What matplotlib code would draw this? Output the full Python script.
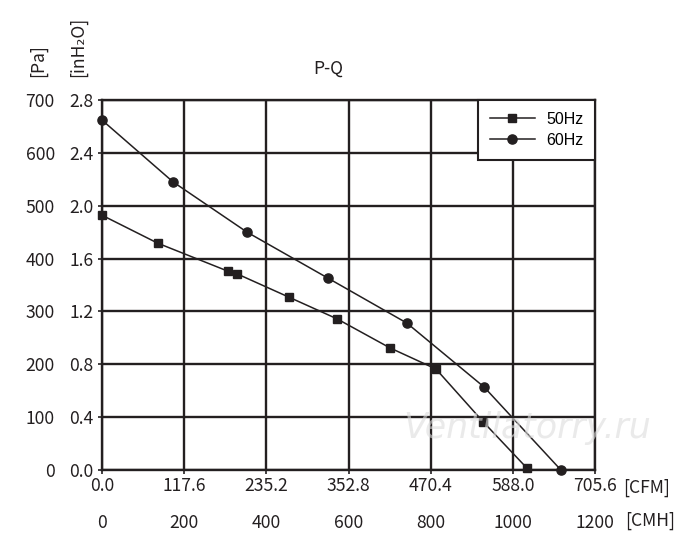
import numpy as np
import matplotlib.pyplot as plt

plt.rcParams['font.family'] = ['Noto Sans CJK SC', 'DejaVu Sans']

# airflow in CMH, pressure in Pa
q_50hz = [0, 136, 307, 329, 455, 572, 701, 813, 928, 1035]
p_50hz = [482, 429, 376, 371, 327, 286, 231, 191, 91, 3]
q_60hz = [0, 173, 353, 550, 742, 930, 1117]
p_60hz = [662, 545, 450, 363, 278, 157, 0]

cmh_ticks = [0, 200, 400, 600, 800, 1000, 1200]
pa_ticks = [0, 100, 200, 300, 400, 500, 600, 700]
cfm_ticks = [0.0, 117.6, 235.2, 352.8, 470.4, 588.0, 705.6]
inh2o_ticks = [0.0, 0.4, 0.8, 1.2, 1.6, 2.0, 2.4, 2.8]

ink = '#231f20'
fs = 12.6

fig = plt.figure(figsize=(7, 5.56), dpi=100)
ax = fig.add_axes([102 / 700, 86 / 556, 493 / 700, 370 / 556])

ax.plot(q_50hz, p_50hz, color=ink, lw=1.1, marker='s', ms=5.6, label='50Hz', clip_on=False, zorder=3)
ax.plot(q_60hz, p_60hz, color=ink, lw=1.1, marker='o', ms=6.6, label='60Hz', clip_on=False, zorder=3)

ax.set_xlim(0, 1200)
ax.set_ylim(0, 700)
ax.set_xticks(cmh_ticks)
ax.set_yticks(pa_ticks)
ax.grid(True, color=ink, lw=1.7)
for s in ax.spines.values():
    s.set_color(ink)
    s.set_linewidth(1.7)
ax.tick_params(axis='both', length=0, labelsize=fs, colors=ink)
ax.tick_params(axis='x', pad=32)
ax.tick_params(axis='y', pad=34)

# secondary scales: CFM and inH2O
sx = ax.secondary_xaxis('bottom', functions=(lambda x: x * 0.588, lambda x: x / 0.588))
sx.set_xticks(cfm_ticks)
sx.set_xticklabels([f'{v:.1f}' for v in cfm_ticks])
sx.tick_params(length=3, width=1.2, pad=2, labelsize=fs, colors=ink)
sx.spines['bottom'].set_visible(False)

sy = ax.secondary_yaxis('left', functions=(lambda y: y / 250, lambda y: y * 250))
sy.set_yticks(inh2o_ticks)
sy.set_yticklabels([f'{v:.1f}' for v in inh2o_ticks])
sy.tick_params(length=3, width=1.2, pad=3, labelsize=fs, colors=ink)
sy.spines['left'].set_visible(False)

leg = ax.legend(loc='upper right', borderaxespad=0, fancybox=False,
                framealpha=1, edgecolor=ink, handlelength=2.8,
                prop={'family': 'Liberation Sans', 'size': 11.5},
                borderpad=0.75, labelspacing=0.35, handletextpad=0.7)
leg.get_frame().set_linewidth(1.5)
leg.set_zorder(5)

fig.text(328 / 700, 1 - 69 / 556, 'P-Q', ha='center', va='center', fontsize=fs, color=ink)
fig.text(38 / 700, 1 - 61 / 556, '[Pa]', ha='center', va='center', rotation=90,
         fontsize=fs, color=ink)
fig.text(78 / 700, 1 - 47 / 556, '[inH₂O]', ha='center', va='center', rotation=90,
         fontsize=fs, color=ink)
fig.text(623 / 700, 1 - 488 / 556, '[CFM]', ha='left', va='center', fontsize=fs, color=ink)
fig.text(625 / 700, 1 - 521 / 556, '[CMH]', ha='left', va='center', fontsize=fs, color=ink)

# faint watermark
fig.text(527 / 700, 1 - 428 / 556, 'Ventilatorry.ru', ha='center', va='center',
         fontsize=25, style='italic', family='DejaVu Sans', color='#dcdcdc', alpha=0.6)

fig.savefig('out.png', dpi=100)
